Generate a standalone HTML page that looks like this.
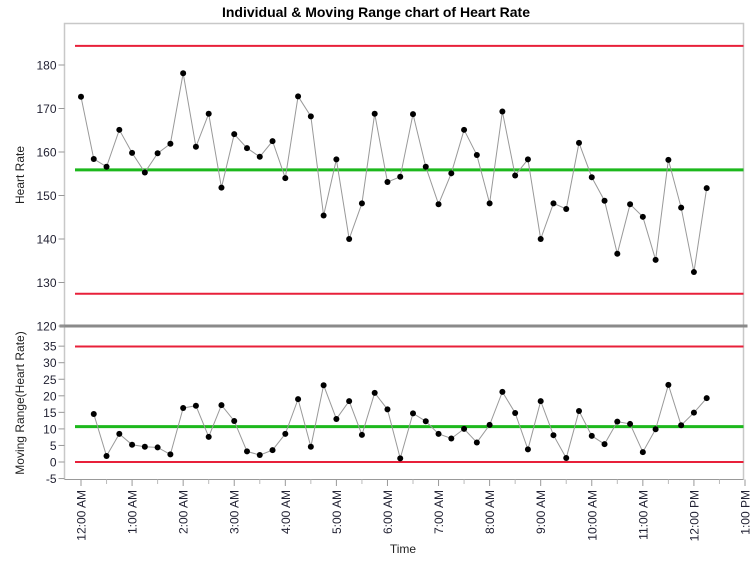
<!DOCTYPE html>
<html><head><meta charset="utf-8"><style>
body{margin:0;background:#fff;}
svg{display:block;font-family:"Liberation Sans",sans-serif;}
</style></head><body>
<svg id="c" width="752" height="563" xmlns="http://www.w3.org/2000/svg">
<text x="376" y="17" text-anchor="middle" font-size="14" font-weight="bold" fill="#000">Individual &amp; Moving Range chart of Heart Rate</text>
<text transform="translate(24,175) rotate(-90)" text-anchor="middle" font-size="12" fill="#222">Heart Rate</text>
<text transform="translate(24,403) rotate(-90)" text-anchor="middle" font-size="12" fill="#222">Moving Range(Heart Rate)</text>
<text x="403" y="553" text-anchor="middle" font-size="12" fill="#222">Time</text>
<g id="g"></g>
</svg>
<script>
const heartRate=[172.7,158.4,156.6,165.1,159.8,155.3,159.7,161.9,178.1,161.2,168.8,151.8,164.1,160.9,158.9,162.5,154.0,172.8,168.2,145.4,158.3,140.0,148.2,168.8,153.1,154.3,168.7,156.6,148.0,155.1,165.1,159.3,148.2,169.3,154.6,158.3,140.0,148.2,146.9,162.1,154.2,148.8,136.6,148.0,145.1,135.2,158.2,147.2,132.4,151.7];
const movingRange=[14.5,1.8,8.5,5.2,4.6,4.4,2.3,16.3,17,7.6,17.2,12.4,3.2,2.1,3.6,8.5,19,4.6,23.2,13,18.4,8.2,20.9,15.9,1.1,14.7,12.3,8.5,7.1,10,5.9,11.2,21.2,14.8,3.8,18.4,8.1,1.2,15.4,7.9,5.4,12.2,11.5,3,9.9,23.3,11.1,14.9,19.3];
const limitsTop=[184.4,155.9,127.4];
const limitsBottom=[34.9,10.7,0];
const topTicks=[180,170,160,150,140,130,120];
const bottomTicks=[35,30,25,20,15,10,5,0,-5];
const timeLabels=["12:00 AM","1:00 AM","2:00 AM","3:00 AM","4:00 AM","5:00 AM","6:00 AM","7:00 AM","8:00 AM","9:00 AM","10:00 AM","11:00 AM","12:00 PM","1:00 PM"];

const NS="http://www.w3.org/2000/svg";
const g=document.getElementById('g');
function mk(t,a,txt){const e=document.createElementNS(NS,t);for(const k in a)e.setAttribute(k,a[k]);if(txt!==undefined)e.textContent=txt;g.appendChild(e);return e;}
const x=i=>81+i*(664/52); // 15-min steps
const xh=h=>81+h*(664/13);
const yT=v=>65+(180-v)*4.35;
const yB=v=>462-v*3.31;
const L=64.5,R=743.5;
// frame
let e=mk('path',{d:`M${L},479.5 V23.5 H${R} V479.5`,fill:'none',stroke:'#c8c8c8','stroke-width':1.5});


e=mk('line',{x1:L,x2:R,y1:479.5,y2:479.5,stroke:'#999','stroke-width':1});


e=mk('line',{x1:L-5,x2:R+4,y1:326,y2:326,stroke:'#8a8a8a','stroke-width':3});


// ticks
topTicks.forEach(v=>{const y=yT(v);
 e=mk('line',{x1:L-6,x2:L,y1:y,y2:y,stroke:'#999'});
 
 
 e=mk('text',{x:L-8,y:y+4.5,'text-anchor':'end','font-size':12,fill:'#223'},v);
 
 });
bottomTicks.forEach(v=>{const y=yB(v);
 e=mk('line',{x1:L-6,x2:L,y1:y,y2:y,stroke:'#999'});
 
 
 e=mk('text',{x:L-8,y:y+4.5,'text-anchor':'end','font-size':12,fill:'#223'},v);
 
 });
timeLabels.forEach((t,h)=>{const xx=xh(h);
 e=mk('line',{x1:xx,x2:xx,y1:479.5,y2:486,stroke:'#999'});
 
 
 if(h<13){e=mk('line',{x1:xx+332/13,x2:xx+332/13,y1:479.5,y2:484,stroke:'#bbb'});
 
 }
 e=mk('text',{transform:`translate(${xx+4.5},490) rotate(-90)`,'text-anchor':'end','font-size':12,fill:'#223'},t);
 
 });
// limit lines
const cols=['#e8203a','#1cb81c','#e8203a'];
limitsTop.forEach((v,i)=>{e=mk('line',{x1:75,x2:R,y1:yT(v),y2:yT(v),stroke:cols[i],'stroke-width':i==1?3:2});
 
 });
limitsBottom.forEach((v,i)=>{e=mk('line',{x1:75,x2:R,y1:yB(v),y2:yB(v),stroke:cols[i],'stroke-width':i==1?3:2});
 
 });
// series
e=mk('polyline',{points:heartRate.map((v,i)=>x(i)+','+yT(v)).join(' '),fill:'none',stroke:'#999','stroke-width':1});


heartRate.forEach((v,i)=>{e=mk('circle',{cx:x(i),cy:yT(v),r:3,fill:'#000'});
 
 });
e=mk('polyline',{points:movingRange.map((v,i)=>x(i+1)+','+yB(v)).join(' '),fill:'none',stroke:'#999','stroke-width':1});


movingRange.forEach((v,i)=>{e=mk('circle',{cx:x(i+1),cy:yB(v),r:3,fill:'#000'});
 
 });
</script>
</body></html>
